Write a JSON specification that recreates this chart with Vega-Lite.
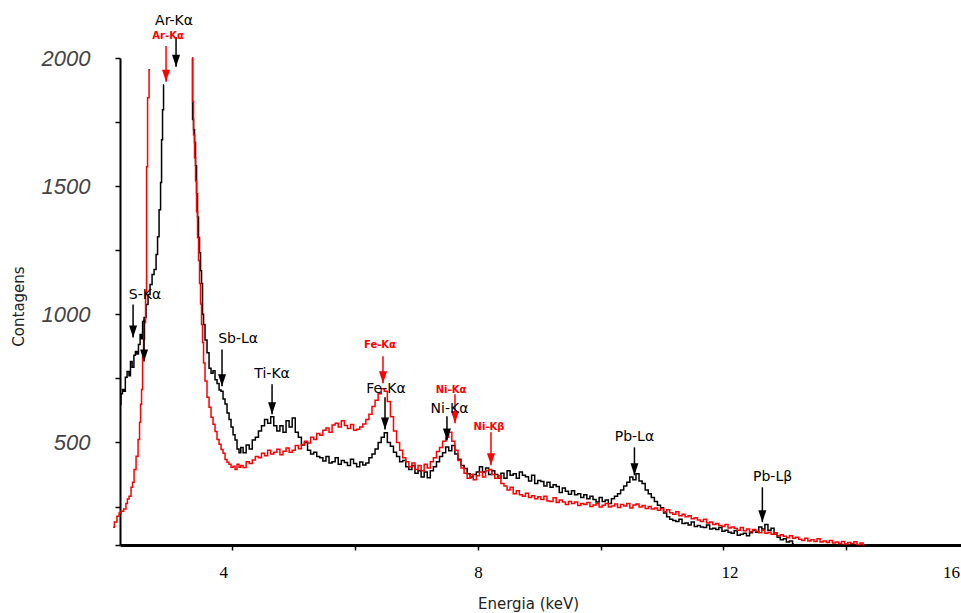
{
  "$schema": "https://vega.github.io/schema/vega-lite/v6.json",
  "width": 849,
  "height": 487,
  "autosize": {"type": "none"},
  "padding": {"left": 120, "top": 58, "right": -8, "bottom": 68},
  "background": "white",
  "config": {"view": {"stroke": null}, "font": "DejaVu Sans"},
  "datasets": {
    "espectros": [
      {"s":"A","p":1,"e":2.171,"c":649},{"s":"A","p":1,"e":2.2,"c":690},{"s":"A","p":1,"e":2.22,"c":707},{"s":"A","p":1,"e":2.245,"c":700},
      {"s":"A","p":1,"e":2.269,"c":754},{"s":"A","p":1,"e":2.302,"c":777},{"s":"A","p":1,"e":2.33,"c":760},{"s":"A","p":1,"e":2.351,"c":816},
      {"s":"A","p":1,"e":2.383,"c":793},{"s":"A","p":1,"e":2.41,"c":840},{"s":"A","p":1,"e":2.432,"c":855},{"s":"A","p":1,"e":2.46,"c":845},
      {"s":"A","p":1,"e":2.481,"c":882},{"s":"A","p":1,"e":2.513,"c":921},{"s":"A","p":1,"e":2.53,"c":905},{"s":"A","p":1,"e":2.546,"c":972},
      {"s":"A","p":1,"e":2.578,"c":988},{"s":"A","p":1,"e":2.611,"c":1038},{"s":"A","p":1,"e":2.643,"c":1077},{"s":"A","p":1,"e":2.676,"c":1116},
      {"s":"A","p":1,"e":2.709,"c":1155},{"s":"A","p":1,"e":2.741,"c":1175},{"s":"A","p":1,"e":2.774,"c":1233},{"s":"A","p":1,"e":2.79,"c":1303},
      {"s":"A","p":1,"e":2.823,"c":1408},{"s":"A","p":1,"e":2.839,"c":1514},{"s":"A","p":1,"e":2.855,"c":1681},{"s":"A","p":1,"e":2.871,"c":1798},
      {"s":"A","p":1,"e":2.888,"c":1895},

      {"s":"A","p":2,"e":3.344,"c":2000},{"s":"A","p":2,"e":3.36,"c":1760},{"s":"A","p":2,"e":3.376,"c":1720},{"s":"A","p":2,"e":3.392,"c":1670},
      {"s":"A","p":2,"e":3.409,"c":1580},{"s":"A","p":2,"e":3.425,"c":1470},{"s":"A","p":2,"e":3.441,"c":1380},{"s":"A","p":2,"e":3.457,"c":1300},
      {"s":"A","p":2,"e":3.474,"c":1240},{"s":"A","p":2,"e":3.49,"c":1170},{"s":"A","p":2,"e":3.506,"c":1120},{"s":"A","p":2,"e":3.523,"c":1000},
      {"s":"A","p":2,"e":3.539,"c":960},{"s":"A","p":2,"e":3.571,"c":900},{"s":"A","p":2,"e":3.604,"c":850},{"s":"A","p":2,"e":3.637,"c":790},
      {"s":"A","p":2,"e":3.669,"c":770},{"s":"A","p":2,"e":3.702,"c":780},{"s":"A","p":2,"e":3.734,"c":745},{"s":"A","p":2,"e":3.767,"c":730},
      {"s":"A","p":2,"e":3.8,"c":705},{"s":"A","p":2,"e":3.832,"c":700},{"s":"A","p":2,"e":3.865,"c":670},{"s":"A","p":2,"e":3.897,"c":650},
      {"s":"A","p":2,"e":3.93,"c":615},{"s":"A","p":2,"e":3.963,"c":590},{"s":"A","p":2,"e":3.995,"c":560},{"s":"A","p":2,"e":4.028,"c":530},
      {"s":"A","p":2,"e":4.06,"c":510},{"s":"A","p":2,"e":4.093,"c":475},{"s":"A","p":2,"e":4.125,"c":460},
      {"s":"A","p":2,"e":4.15,"c":480},{"s":"A","p":2,"e":4.2,"c":460},{"s":"A","p":2,"e":4.25,"c":490},{"s":"A","p":2,"e":4.3,"c":475},
      {"s":"A","p":2,"e":4.35,"c":510},{"s":"A","p":2,"e":4.4,"c":520},{"s":"A","p":2,"e":4.45,"c":545},{"s":"A","p":2,"e":4.5,"c":565},
      {"s":"A","p":2,"e":4.55,"c":590},{"s":"A","p":2,"e":4.6,"c":575},{"s":"A","p":2,"e":4.65,"c":600},{"s":"A","p":2,"e":4.7,"c":565},
      {"s":"A","p":2,"e":4.75,"c":545},{"s":"A","p":2,"e":4.8,"c":565},{"s":"A","p":2,"e":4.85,"c":540},{"s":"A","p":2,"e":4.9,"c":585},
      {"s":"A","p":2,"e":4.95,"c":560},{"s":"A","p":2,"e":5.0,"c":595},{"s":"A","p":2,"e":5.05,"c":540},{"s":"A","p":2,"e":5.1,"c":520},
      {"s":"A","p":2,"e":5.15,"c":490},{"s":"A","p":2,"e":5.2,"c":500},{"s":"A","p":2,"e":5.25,"c":470},{"s":"A","p":2,"e":5.3,"c":455},
      {"s":"A","p":2,"e":5.35,"c":462},{"s":"A","p":2,"e":5.4,"c":445},{"s":"A","p":2,"e":5.45,"c":440},{"s":"A","p":2,"e":5.5,"c":428},
      {"s":"A","p":2,"e":5.55,"c":445},{"s":"A","p":2,"e":5.6,"c":420},{"s":"A","p":2,"e":5.65,"c":425},{"s":"A","p":2,"e":5.7,"c":440},
      {"s":"A","p":2,"e":5.75,"c":415},{"s":"A","p":2,"e":5.8,"c":430},{"s":"A","p":2,"e":5.85,"c":422},{"s":"A","p":2,"e":5.9,"c":410},
      {"s":"A","p":2,"e":5.95,"c":435},{"s":"A","p":2,"e":6.0,"c":418},{"s":"A","p":2,"e":6.05,"c":405},{"s":"A","p":2,"e":6.1,"c":424},
      {"s":"A","p":2,"e":6.15,"c":412},{"s":"A","p":2,"e":6.2,"c":420},{"s":"A","p":2,"e":6.25,"c":440},{"s":"A","p":2,"e":6.3,"c":455},
      {"s":"A","p":2,"e":6.35,"c":475},{"s":"A","p":2,"e":6.4,"c":500},{"s":"A","p":2,"e":6.45,"c":520},{"s":"A","p":2,"e":6.5,"c":538},
      {"s":"A","p":2,"e":6.55,"c":500},{"s":"A","p":2,"e":6.6,"c":485},{"s":"A","p":2,"e":6.65,"c":462},{"s":"A","p":2,"e":6.7,"c":445},
      {"s":"A","p":2,"e":6.75,"c":425},{"s":"A","p":2,"e":6.8,"c":430},{"s":"A","p":2,"e":6.85,"c":405},{"s":"A","p":2,"e":6.9,"c":395},
      {"s":"A","p":2,"e":6.95,"c":410},{"s":"A","p":2,"e":7.0,"c":380},{"s":"A","p":2,"e":7.05,"c":390},{"s":"A","p":2,"e":7.1,"c":365},
      {"s":"A","p":2,"e":7.15,"c":385},{"s":"A","p":2,"e":7.2,"c":362},{"s":"A","p":2,"e":7.25,"c":390},{"s":"A","p":2,"e":7.3,"c":405},
      {"s":"A","p":2,"e":7.35,"c":425},{"s":"A","p":2,"e":7.4,"c":445},{"s":"A","p":2,"e":7.45,"c":460},{"s":"A","p":2,"e":7.5,"c":482},
      {"s":"A","p":2,"e":7.55,"c":468},{"s":"A","p":2,"e":7.6,"c":488},{"s":"A","p":2,"e":7.65,"c":455},{"s":"A","p":2,"e":7.7,"c":435},
      {"s":"A","p":2,"e":7.75,"c":410},{"s":"A","p":2,"e":7.8,"c":398},{"s":"A","p":2,"e":7.85,"c":378},{"s":"A","p":2,"e":7.9,"c":365},
      {"s":"A","p":2,"e":7.95,"c":375},{"s":"A","p":2,"e":8.0,"c":385},{"s":"A","p":2,"e":8.05,"c":405},{"s":"A","p":2,"e":8.1,"c":385},
      {"s":"A","p":2,"e":8.15,"c":400},{"s":"A","p":2,"e":8.2,"c":375},{"s":"A","p":2,"e":8.25,"c":390},{"s":"A","p":2,"e":8.3,"c":375},
      {"s":"A","p":2,"e":8.35,"c":360},{"s":"A","p":2,"e":8.4,"c":380},{"s":"A","p":2,"e":8.45,"c":360},{"s":"A","p":2,"e":8.5,"c":390},
      {"s":"A","p":2,"e":8.55,"c":372},{"s":"A","p":2,"e":8.6,"c":378},{"s":"A","p":2,"e":8.65,"c":360},{"s":"A","p":2,"e":8.7,"c":385},
      {"s":"A","p":2,"e":8.75,"c":372},{"s":"A","p":2,"e":8.8,"c":366},{"s":"A","p":2,"e":8.85,"c":350},{"s":"A","p":2,"e":8.9,"c":372},
      {"s":"A","p":2,"e":8.95,"c":340},{"s":"A","p":2,"e":9.0,"c":352},{"s":"A","p":2,"e":9.05,"c":348},{"s":"A","p":2,"e":9.1,"c":330},
      {"s":"A","p":2,"e":9.15,"c":345},{"s":"A","p":2,"e":9.2,"c":325},{"s":"A","p":2,"e":9.25,"c":335},{"s":"A","p":2,"e":9.3,"c":328},
      {"s":"A","p":2,"e":9.35,"c":305},{"s":"A","p":2,"e":9.4,"c":322},{"s":"A","p":2,"e":9.45,"c":310},{"s":"A","p":2,"e":9.5,"c":298},
      {"s":"A","p":2,"e":9.55,"c":312},{"s":"A","p":2,"e":9.6,"c":296},{"s":"A","p":2,"e":9.65,"c":300},{"s":"A","p":2,"e":9.7,"c":285},
      {"s":"A","p":2,"e":9.75,"c":296},{"s":"A","p":2,"e":9.8,"c":280},{"s":"A","p":2,"e":9.85,"c":290},{"s":"A","p":2,"e":9.9,"c":278},
      {"s":"A","p":2,"e":9.95,"c":268},{"s":"A","p":2,"e":10.0,"c":285},{"s":"A","p":2,"e":10.05,"c":270},{"s":"A","p":2,"e":10.1,"c":276},
      {"s":"A","p":2,"e":10.15,"c":262},{"s":"A","p":2,"e":10.2,"c":280},{"s":"A","p":2,"e":10.25,"c":290},{"s":"A","p":2,"e":10.3,"c":300},
      {"s":"A","p":2,"e":10.35,"c":315},{"s":"A","p":2,"e":10.4,"c":330},{"s":"A","p":2,"e":10.45,"c":345},{"s":"A","p":2,"e":10.5,"c":365},
      {"s":"A","p":2,"e":10.55,"c":355},{"s":"A","p":2,"e":10.6,"c":378},{"s":"A","p":2,"e":10.65,"c":350},{"s":"A","p":2,"e":10.7,"c":340},
      {"s":"A","p":2,"e":10.75,"c":315},{"s":"A","p":2,"e":10.8,"c":300},{"s":"A","p":2,"e":10.85,"c":285},{"s":"A","p":2,"e":10.9,"c":270},
      {"s":"A","p":2,"e":10.95,"c":255},{"s":"A","p":2,"e":11.0,"c":245},{"s":"A","p":2,"e":11.05,"c":225},{"s":"A","p":2,"e":11.1,"c":210},
      {"s":"A","p":2,"e":11.15,"c":200},{"s":"A","p":2,"e":11.2,"c":196},{"s":"A","p":2,"e":11.25,"c":192},{"s":"A","p":2,"e":11.3,"c":200},
      {"s":"A","p":2,"e":11.35,"c":184},{"s":"A","p":2,"e":11.4,"c":186},{"s":"A","p":2,"e":11.45,"c":178},{"s":"A","p":2,"e":11.5,"c":190},
      {"s":"A","p":2,"e":11.55,"c":172},{"s":"A","p":2,"e":11.6,"c":176},{"s":"A","p":2,"e":11.65,"c":170},{"s":"A","p":2,"e":11.7,"c":168},
      {"s":"A","p":2,"e":11.75,"c":178},{"s":"A","p":2,"e":11.8,"c":162},{"s":"A","p":2,"e":11.85,"c":165},{"s":"A","p":2,"e":11.9,"c":160},
      {"s":"A","p":2,"e":11.95,"c":168},{"s":"A","p":2,"e":12.0,"c":154},{"s":"A","p":2,"e":12.05,"c":158},{"s":"A","p":2,"e":12.1,"c":150},
      {"s":"A","p":2,"e":12.15,"c":146},{"s":"A","p":2,"e":12.2,"c":156},{"s":"A","p":2,"e":12.25,"c":138},{"s":"A","p":2,"e":12.3,"c":142},
      {"s":"A","p":2,"e":12.35,"c":146},{"s":"A","p":2,"e":12.4,"c":136},{"s":"A","p":2,"e":12.45,"c":148},{"s":"A","p":2,"e":12.5,"c":158},
      {"s":"A","p":2,"e":12.55,"c":150},{"s":"A","p":2,"e":12.6,"c":170},{"s":"A","p":2,"e":12.65,"c":162},{"s":"A","p":2,"e":12.7,"c":180},
      {"s":"A","p":2,"e":12.75,"c":158},{"s":"A","p":2,"e":12.8,"c":165},{"s":"A","p":2,"e":12.85,"c":142},{"s":"A","p":2,"e":12.9,"c":130},
      {"s":"A","p":2,"e":12.95,"c":120},{"s":"A","p":2,"e":13.0,"c":124},{"s":"A","p":2,"e":13.05,"c":112},{"s":"A","p":2,"e":13.1,"c":116},
      {"s":"A","p":2,"e":13.15,"c":104},

      {"s":"B","p":1,"e":2.057,"c":169},{"s":"B","p":1,"e":2.1,"c":190},{"s":"B","p":1,"e":2.14,"c":212},{"s":"B","p":1,"e":2.17,"c":225},
      {"s":"B","p":1,"e":2.204,"c":232},{"s":"B","p":1,"e":2.253,"c":240},{"s":"B","p":1,"e":2.28,"c":262},{"s":"B","p":1,"e":2.301,"c":279},
      {"s":"B","p":1,"e":2.334,"c":290},{"s":"B","p":1,"e":2.366,"c":325},{"s":"B","p":1,"e":2.383,"c":345},{"s":"B","p":1,"e":2.415,"c":395},
      {"s":"B","p":1,"e":2.448,"c":446},{"s":"B","p":1,"e":2.48,"c":512},{"s":"B","p":1,"e":2.497,"c":579},{"s":"B","p":1,"e":2.513,"c":649},
      {"s":"B","p":1,"e":2.529,"c":707},{"s":"B","p":1,"e":2.546,"c":836},{"s":"B","p":1,"e":2.562,"c":902},{"s":"B","p":1,"e":2.578,"c":968},
      {"s":"B","p":1,"e":2.595,"c":1085},{"s":"B","p":1,"e":2.611,"c":1576},{"s":"B","p":1,"e":2.627,"c":1845},{"s":"B","p":1,"e":2.66,"c":1954},

      {"s":"B","p":2,"e":3.344,"c":2000},{"s":"B","p":2,"e":3.36,"c":1830},{"s":"B","p":2,"e":3.376,"c":1700},{"s":"B","p":2,"e":3.392,"c":1610},
      {"s":"B","p":2,"e":3.409,"c":1520},{"s":"B","p":2,"e":3.425,"c":1400},{"s":"B","p":2,"e":3.441,"c":1300},{"s":"B","p":2,"e":3.457,"c":1210},
      {"s":"B","p":2,"e":3.474,"c":1120},{"s":"B","p":2,"e":3.49,"c":1040},{"s":"B","p":2,"e":3.506,"c":960},{"s":"B","p":2,"e":3.523,"c":890},
      {"s":"B","p":2,"e":3.539,"c":810},{"s":"B","p":2,"e":3.571,"c":740},{"s":"B","p":2,"e":3.604,"c":676},{"s":"B","p":2,"e":3.637,"c":637},
      {"s":"B","p":2,"e":3.669,"c":598},{"s":"B","p":2,"e":3.702,"c":571},{"s":"B","p":2,"e":3.734,"c":543},{"s":"B","p":2,"e":3.767,"c":512},
      {"s":"B","p":2,"e":3.8,"c":493},{"s":"B","p":2,"e":3.832,"c":473},{"s":"B","p":2,"e":3.865,"c":458},{"s":"B","p":2,"e":3.897,"c":434},
      {"s":"B","p":2,"e":3.93,"c":423},{"s":"B","p":2,"e":3.963,"c":415},{"s":"B","p":2,"e":3.995,"c":403},{"s":"B","p":2,"e":4.028,"c":407},
      {"s":"B","p":2,"e":4.06,"c":395},{"s":"B","p":2,"e":4.093,"c":415},{"s":"B","p":2,"e":4.125,"c":403},
      {"s":"B","p":2,"e":4.15,"c":410},{"s":"B","p":2,"e":4.2,"c":402},{"s":"B","p":2,"e":4.25,"c":425},{"s":"B","p":2,"e":4.3,"c":418},
      {"s":"B","p":2,"e":4.35,"c":432},{"s":"B","p":2,"e":4.4,"c":445},{"s":"B","p":2,"e":4.45,"c":440},{"s":"B","p":2,"e":4.5,"c":458},
      {"s":"B","p":2,"e":4.55,"c":448},{"s":"B","p":2,"e":4.6,"c":470},{"s":"B","p":2,"e":4.65,"c":455},{"s":"B","p":2,"e":4.7,"c":462},
      {"s":"B","p":2,"e":4.75,"c":474},{"s":"B","p":2,"e":4.8,"c":452},{"s":"B","p":2,"e":4.85,"c":466},{"s":"B","p":2,"e":4.9,"c":478},
      {"s":"B","p":2,"e":4.95,"c":462},{"s":"B","p":2,"e":5.0,"c":470},{"s":"B","p":2,"e":5.05,"c":488},{"s":"B","p":2,"e":5.1,"c":476},
      {"s":"B","p":2,"e":5.15,"c":492},{"s":"B","p":2,"e":5.2,"c":505},{"s":"B","p":2,"e":5.25,"c":498},{"s":"B","p":2,"e":5.3,"c":520},
      {"s":"B","p":2,"e":5.35,"c":512},{"s":"B","p":2,"e":5.4,"c":535},{"s":"B","p":2,"e":5.45,"c":528},{"s":"B","p":2,"e":5.5,"c":548},
      {"s":"B","p":2,"e":5.55,"c":556},{"s":"B","p":2,"e":5.6,"c":540},{"s":"B","p":2,"e":5.65,"c":568},{"s":"B","p":2,"e":5.7,"c":575},
      {"s":"B","p":2,"e":5.75,"c":560},{"s":"B","p":2,"e":5.8,"c":585},{"s":"B","p":2,"e":5.85,"c":566},{"s":"B","p":2,"e":5.9,"c":555},
      {"s":"B","p":2,"e":5.95,"c":570},{"s":"B","p":2,"e":6.0,"c":548},{"s":"B","p":2,"e":6.05,"c":552},{"s":"B","p":2,"e":6.1,"c":560},
      {"s":"B","p":2,"e":6.15,"c":572},{"s":"B","p":2,"e":6.2,"c":590},{"s":"B","p":2,"e":6.25,"c":610},{"s":"B","p":2,"e":6.3,"c":640},
      {"s":"B","p":2,"e":6.35,"c":665},{"s":"B","p":2,"e":6.4,"c":690},{"s":"B","p":2,"e":6.45,"c":710},{"s":"B","p":2,"e":6.5,"c":700},
      {"s":"B","p":2,"e":6.55,"c":660},{"s":"B","p":2,"e":6.6,"c":600},{"s":"B","p":2,"e":6.65,"c":545},{"s":"B","p":2,"e":6.7,"c":500},
      {"s":"B","p":2,"e":6.75,"c":470},{"s":"B","p":2,"e":6.8,"c":440},{"s":"B","p":2,"e":6.85,"c":425},{"s":"B","p":2,"e":6.9,"c":405},
      {"s":"B","p":2,"e":6.95,"c":420},{"s":"B","p":2,"e":7.0,"c":395},{"s":"B","p":2,"e":7.05,"c":410},{"s":"B","p":2,"e":7.1,"c":390},
      {"s":"B","p":2,"e":7.15,"c":415},{"s":"B","p":2,"e":7.2,"c":400},{"s":"B","p":2,"e":7.25,"c":425},{"s":"B","p":2,"e":7.3,"c":440},
      {"s":"B","p":2,"e":7.35,"c":465},{"s":"B","p":2,"e":7.4,"c":480},{"s":"B","p":2,"e":7.45,"c":505},{"s":"B","p":2,"e":7.5,"c":520},
      {"s":"B","p":2,"e":7.55,"c":540},{"s":"B","p":2,"e":7.6,"c":505},{"s":"B","p":2,"e":7.65,"c":470},{"s":"B","p":2,"e":7.7,"c":430},
      {"s":"B","p":2,"e":7.75,"c":400},{"s":"B","p":2,"e":7.8,"c":380},{"s":"B","p":2,"e":7.85,"c":360},{"s":"B","p":2,"e":7.9,"c":375},
      {"s":"B","p":2,"e":7.95,"c":355},{"s":"B","p":2,"e":8.0,"c":370},{"s":"B","p":2,"e":8.05,"c":385},{"s":"B","p":2,"e":8.1,"c":365},
      {"s":"B","p":2,"e":8.15,"c":390},{"s":"B","p":2,"e":8.2,"c":395},{"s":"B","p":2,"e":8.25,"c":375},{"s":"B","p":2,"e":8.3,"c":360},
      {"s":"B","p":2,"e":8.35,"c":370},{"s":"B","p":2,"e":8.4,"c":340},{"s":"B","p":2,"e":8.45,"c":330},{"s":"B","p":2,"e":8.5,"c":315},
      {"s":"B","p":2,"e":8.55,"c":325},{"s":"B","p":2,"e":8.6,"c":300},{"s":"B","p":2,"e":8.65,"c":312},{"s":"B","p":2,"e":8.7,"c":296},
      {"s":"B","p":2,"e":8.75,"c":290},{"s":"B","p":2,"e":8.8,"c":302},{"s":"B","p":2,"e":8.85,"c":285},{"s":"B","p":2,"e":8.9,"c":292},
      {"s":"B","p":2,"e":8.95,"c":280},{"s":"B","p":2,"e":9.0,"c":288},{"s":"B","p":2,"e":9.05,"c":278},{"s":"B","p":2,"e":9.1,"c":290},
      {"s":"B","p":2,"e":9.15,"c":272},{"s":"B","p":2,"e":9.2,"c":270},{"s":"B","p":2,"e":9.25,"c":284},{"s":"B","p":2,"e":9.3,"c":266},
      {"s":"B","p":2,"e":9.35,"c":276},{"s":"B","p":2,"e":9.4,"c":268},{"s":"B","p":2,"e":9.45,"c":258},{"s":"B","p":2,"e":9.5,"c":270},
      {"s":"B","p":2,"e":9.55,"c":262},{"s":"B","p":2,"e":9.6,"c":268},{"s":"B","p":2,"e":9.65,"c":254},{"s":"B","p":2,"e":9.7,"c":262},
      {"s":"B","p":2,"e":9.75,"c":258},{"s":"B","p":2,"e":9.8,"c":266},{"s":"B","p":2,"e":9.85,"c":250},{"s":"B","p":2,"e":9.9,"c":256},
      {"s":"B","p":2,"e":9.95,"c":262},{"s":"B","p":2,"e":10.0,"c":248},{"s":"B","p":2,"e":10.05,"c":255},{"s":"B","p":2,"e":10.1,"c":262},
      {"s":"B","p":2,"e":10.15,"c":248},{"s":"B","p":2,"e":10.2,"c":252},{"s":"B","p":2,"e":10.25,"c":260},{"s":"B","p":2,"e":10.3,"c":246},
      {"s":"B","p":2,"e":10.35,"c":258},{"s":"B","p":2,"e":10.4,"c":252},{"s":"B","p":2,"e":10.45,"c":262},{"s":"B","p":2,"e":10.5,"c":244},
      {"s":"B","p":2,"e":10.55,"c":256},{"s":"B","p":2,"e":10.6,"c":260},{"s":"B","p":2,"e":10.65,"c":248},{"s":"B","p":2,"e":10.7,"c":254},
      {"s":"B","p":2,"e":10.75,"c":242},{"s":"B","p":2,"e":10.8,"c":250},{"s":"B","p":2,"e":10.85,"c":240},{"s":"B","p":2,"e":10.9,"c":244},
      {"s":"B","p":2,"e":10.95,"c":236},{"s":"B","p":2,"e":11.0,"c":242},{"s":"B","p":2,"e":11.05,"c":230},{"s":"B","p":2,"e":11.1,"c":238},
      {"s":"B","p":2,"e":11.15,"c":226},{"s":"B","p":2,"e":11.2,"c":220},{"s":"B","p":2,"e":11.25,"c":230},{"s":"B","p":2,"e":11.3,"c":214},
      {"s":"B","p":2,"e":11.35,"c":220},{"s":"B","p":2,"e":11.4,"c":210},{"s":"B","p":2,"e":11.45,"c":214},{"s":"B","p":2,"e":11.5,"c":202},
      {"s":"B","p":2,"e":11.55,"c":206},{"s":"B","p":2,"e":11.6,"c":198},{"s":"B","p":2,"e":11.65,"c":192},{"s":"B","p":2,"e":11.7,"c":200},
      {"s":"B","p":2,"e":11.75,"c":186},{"s":"B","p":2,"e":11.8,"c":190},{"s":"B","p":2,"e":11.85,"c":180},{"s":"B","p":2,"e":11.9,"c":184},
      {"s":"B","p":2,"e":11.95,"c":176},{"s":"B","p":2,"e":12.0,"c":172},{"s":"B","p":2,"e":12.05,"c":180},{"s":"B","p":2,"e":12.1,"c":166},
      {"s":"B","p":2,"e":12.15,"c":170},{"s":"B","p":2,"e":12.2,"c":164},{"s":"B","p":2,"e":12.25,"c":158},{"s":"B","p":2,"e":12.3,"c":168},
      {"s":"B","p":2,"e":12.35,"c":156},{"s":"B","p":2,"e":12.4,"c":162},{"s":"B","p":2,"e":12.45,"c":152},{"s":"B","p":2,"e":12.5,"c":160},
      {"s":"B","p":2,"e":12.55,"c":154},{"s":"B","p":2,"e":12.6,"c":148},{"s":"B","p":2,"e":12.65,"c":158},{"s":"B","p":2,"e":12.7,"c":146},
      {"s":"B","p":2,"e":12.75,"c":150},{"s":"B","p":2,"e":12.8,"c":142},{"s":"B","p":2,"e":12.85,"c":148},{"s":"B","p":2,"e":12.9,"c":136},
      {"s":"B","p":2,"e":12.95,"c":140},{"s":"B","p":2,"e":13.0,"c":134},{"s":"B","p":2,"e":13.05,"c":128},{"s":"B","p":2,"e":13.1,"c":136},
      {"s":"B","p":2,"e":13.15,"c":126},{"s":"B","p":2,"e":13.2,"c":130},{"s":"B","p":2,"e":13.25,"c":122},{"s":"B","p":2,"e":13.3,"c":118},
      {"s":"B","p":2,"e":13.35,"c":126},{"s":"B","p":2,"e":13.4,"c":116},{"s":"B","p":2,"e":13.45,"c":120},{"s":"B","p":2,"e":13.5,"c":114},
      {"s":"B","p":2,"e":13.55,"c":124},{"s":"B","p":2,"e":13.6,"c":112},{"s":"B","p":2,"e":13.65,"c":116},{"s":"B","p":2,"e":13.7,"c":110},
      {"s":"B","p":2,"e":13.75,"c":118},{"s":"B","p":2,"e":13.8,"c":108},{"s":"B","p":2,"e":13.85,"c":112},{"s":"B","p":2,"e":13.9,"c":106},
      {"s":"B","p":2,"e":13.95,"c":114},{"s":"B","p":2,"e":14.0,"c":104},{"s":"B","p":2,"e":14.05,"c":110},{"s":"B","p":2,"e":14.1,"c":106},
      {"s":"B","p":2,"e":14.15,"c":113},{"s":"B","p":2,"e":14.2,"c":102},{"s":"B","p":2,"e":14.25,"c":108},{"s":"B","p":2,"e":14.3,"c":101}
    ],
    "flechas": [
      {"s":"A","e":3.083,"c":2082,"c2":1966},
      {"s":"B","e":2.92,"c":2047,"c2":1907},
      {"s":"A","e":2.383,"c":1038,"c2":910},
      {"s":"A","e":2.562,"c":980,"c2":816},
      {"s":"A","e":3.832,"c":863,"c2":719},
      {"s":"A","e":4.647,"c":727,"c2":610},
      {"s":"A","e":6.487,"c":676,"c2":551},
      {"s":"A","e":7.496,"c":602,"c2":508},
      {"s":"A","e":10.55,"c":481,"c2":372},
      {"s":"A","e":12.634,"c":325,"c2":189},
      {"s":"B","e":6.454,"c":836,"c2":731},
      {"s":"B","e":7.627,"c":688,"c2":575},
      {"s":"B","e":8.213,"c":540,"c2":411}
    ],
    "rotulos": [
      {"s":"A","t":"Ar-Kα","e":3.05,"c":2145},
      {"s":"A","t":"S-Kα","e":2.578,"c":1077},
      {"s":"A","t":"Sb-Lα","e":4.093,"c":902},
      {"s":"A","t":"Ti-Kα","e":4.647,"c":766},
      {"s":"A","t":"Fe-Kα","e":6.503,"c":707},
      {"s":"A","t":"Ni-Kα","e":7.537,"c":629},
      {"s":"A","t":"Pb-Lα","e":10.55,"c":520},
      {"s":"A","t":"Pb-Lβ","e":12.8,"c":364},
      {"s":"B","t":"Ar-Kα","e":2.953,"c":2086},
      {"s":"B","t":"Fe-Kα","e":6.405,"c":882},
      {"s":"B","t":"Ni-Kα","e":7.562,"c":703},
      {"s":"B","t":"Ni-Kβ","e":8.181,"c":559}
    ]
  },
  "encoding": {
    "x": {
      "field": "e",
      "type": "quantitative",
      "scale": {"domain": [2.17, 16], "nice": false, "zero": false},
      "axis": {
        "title": "Energia (keV)",
        "values": [4, 6, 8, 10, 12, 14, 16],
        "format": "d",
        "labelExpr": "datum.value % 4 === 0 ? datum.label : ''",
        "grid": false,
        "domainColor": "#000000",
        "domainWidth": 3,
        "tickColor": "#000000",
        "tickWidth": 1.5,
        "tickSize": 5,
        "labelFont": "Liberation Serif",
        "labelFontSize": 17,
        "labelColor": "#000000",
        "labelPadding": 14,
        "labelFlush": false,
        "labelOverlap": false,
        "labelBound": false,
        "labelOffset": {"condition": [{"test": "datum.value === 4", "value": -9}, {"test": "datum.value === 12", "value": 6}, {"test": "datum.value === 16", "value": -18}], "value": 0},
        "titleFont": "DejaVu Sans",
        "titleFontSize": 15,
        "titleFontWeight": "normal",
        "titleColor": "#222222",
        "titleX": 408,
        "titleY": 58,
        "titleBaseline": "middle",
        "titleAlign": "center"
      }
    },
    "y": {
      "field": "c",
      "type": "quantitative",
      "scale": {"domain": [100, 2000], "nice": false, "zero": false},
      "axis": {
        "title": "Contagens",
        "values": [100, 250, 500, 750, 1000, 1250, 1500, 1750, 2000],
        "format": "d",
        "labelExpr": "datum.value % 500 === 0 ? datum.label : ''",
        "grid": false,
        "domainColor": "#000000",
        "domainWidth": 2,
        "tickColor": "#000000",
        "tickWidth": 1.5,
        "tickSize": 5,
        "labelFont": "Liberation Sans",
        "labelFontStyle": "italic",
        "labelFontSize": 22,
        "labelColor": "#444444",
        "labelPadding": 25,
        "labelFlush": false,
        "labelOverlap": false,
        "labelBound": false,
        "titleFont": "DejaVu Sans",
        "titleFontSize": 15,
        "titleFontWeight": "normal",
        "titleColor": "#222222",
        "titleAngle": 270,
        "titleX": -102,
        "titleY": 248,
        "titleAlign": "center",
        "titleBaseline": "middle"
      }
    },
    "color": {
      "field": "s",
      "type": "nominal",
      "scale": {"domain": ["A", "B"], "range": ["#000000", "#ff0000"]},
      "legend": null
    }
  },
  "layer": [
    {
      "data": {"name": "espectros"},
      "mark": {"type": "line", "interpolate": "step", "strokeWidth": 1.5, "clip": false},
      "encoding": {"detail": {"field": "p", "type": "nominal"}}
    },
    {
      "data": {"name": "flechas"},
      "mark": {"type": "rule", "strokeWidth": 1.5, "clip": false},
      "encoding": {"y2": {"field": "c2"}}
    },
    {
      "data": {"name": "flechas"},
      "mark": {"type": "point", "shape": "M-0.8,-1.2L0.8,-1.2L0,1.2Z", "filled": true, "opacity": 1, "size": 100, "yOffset": -6, "clip": false},
      "encoding": {"y": {"field": "c2", "type": "quantitative", "title": "Contagens"}}
    },
    {
      "data": {"name": "rotulos"},
      "transform": [{"filter": "datum.s === 'A'"}],
      "mark": {"type": "text", "font": "DejaVu Sans", "fontSize": 14, "align": "center", "baseline": "middle", "clip": false},
      "encoding": {"text": {"field": "t"}}
    },
    {
      "data": {"name": "rotulos"},
      "transform": [{"filter": "datum.s === 'B'"}],
      "mark": {"type": "text", "font": "DejaVu Sans", "fontSize": 10, "fontWeight": "bold", "align": "center", "baseline": "middle", "clip": false},
      "encoding": {"text": {"field": "t"}}
    }
  ]
}
